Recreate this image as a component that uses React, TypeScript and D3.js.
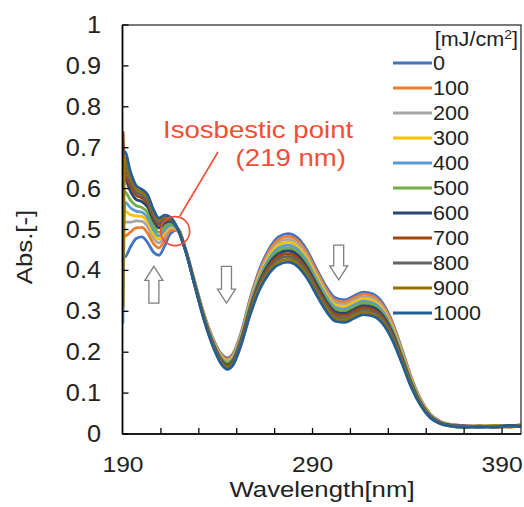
import React from "react";
import * as d3 from "d3";

const wavelengths = [
  190, 191, 194, 197, 200, 203, 206, 209, 212, 215, 219, 223, 228, 233, 238, 242,
  245, 248, 252, 257, 262, 267, 272, 277, 282, 287, 292, 297, 302, 307, 312, 317,
  322, 327, 332, 337, 342, 347, 352, 357, 362, 370, 378, 386, 394, 400,
];

const abs0 = [0.433, 0.433, 0.458, 0.478, 0.482, 0.468, 0.445, 0.437, 0.46, 0.49, 0.5, 0.452, 0.37, 0.29, 0.228, 0.195, 0.186, 0.196, 0.243, 0.33, 0.402, 0.452, 0.482, 0.49, 0.48, 0.45, 0.405, 0.362, 0.333, 0.328, 0.338, 0.347, 0.342, 0.32, 0.275, 0.21, 0.14, 0.085, 0.05, 0.032, 0.024, 0.02, 0.018, 0.019, 0.02, 0.022];
const abs100 = [0.484, 0.484, 0.494, 0.504, 0.505, 0.491, 0.466, 0.455, 0.475, 0.498, 0.5, 0.452, 0.369, 0.288, 0.226, 0.193, 0.183, 0.193, 0.24, 0.326, 0.397, 0.446, 0.475, 0.483, 0.473, 0.443, 0.399, 0.356, 0.327, 0.323, 0.333, 0.342, 0.337, 0.315, 0.271, 0.207, 0.138, 0.084, 0.049, 0.031, 0.024, 0.021, 0.017, 0.02, 0.018, 0.023];
const abs200 = [0.518, 0.518, 0.518, 0.521, 0.52, 0.507, 0.48, 0.467, 0.485, 0.503, 0.5, 0.451, 0.368, 0.287, 0.224, 0.19, 0.18, 0.19, 0.237, 0.322, 0.392, 0.44, 0.468, 0.476, 0.466, 0.436, 0.392, 0.35, 0.322, 0.317, 0.327, 0.336, 0.331, 0.31, 0.266, 0.203, 0.135, 0.082, 0.048, 0.031, 0.023, 0.019, 0.02, 0.017, 0.021, 0.02];
const abs300 = [0.544, 0.544, 0.536, 0.533, 0.532, 0.518, 0.49, 0.476, 0.492, 0.507, 0.5, 0.451, 0.367, 0.286, 0.222, 0.188, 0.178, 0.188, 0.234, 0.318, 0.387, 0.434, 0.462, 0.469, 0.459, 0.43, 0.386, 0.344, 0.316, 0.312, 0.322, 0.331, 0.326, 0.305, 0.262, 0.2, 0.133, 0.081, 0.047, 0.03, 0.023, 0.018, 0.019, 0.021, 0.017, 0.02];
const abs400 = [0.27, 0.567, 0.553, 0.545, 0.542, 0.529, 0.5, 0.484, 0.499, 0.511, 0.5, 0.45, 0.366, 0.284, 0.22, 0.185, 0.175, 0.185, 0.231, 0.314, 0.382, 0.428, 0.455, 0.462, 0.452, 0.423, 0.379, 0.338, 0.31, 0.306, 0.316, 0.325, 0.32, 0.3, 0.257, 0.196, 0.13, 0.079, 0.046, 0.03, 0.022, 0.02, 0.016, 0.019, 0.02, 0.018];
const abs500 = [0.592, 0.592, 0.571, 0.558, 0.554, 0.541, 0.51, 0.493, 0.507, 0.515, 0.5, 0.45, 0.365, 0.283, 0.218, 0.183, 0.172, 0.182, 0.228, 0.31, 0.377, 0.422, 0.448, 0.455, 0.445, 0.416, 0.373, 0.332, 0.305, 0.301, 0.311, 0.32, 0.315, 0.295, 0.253, 0.193, 0.128, 0.078, 0.045, 0.029, 0.022, 0.017, 0.018, 0.02, 0.019, 0.021];
const abs600 = [0.623, 0.623, 0.593, 0.573, 0.568, 0.555, 0.523, 0.504, 0.516, 0.52, 0.5, 0.45, 0.364, 0.281, 0.216, 0.18, 0.169, 0.179, 0.225, 0.306, 0.372, 0.416, 0.441, 0.448, 0.438, 0.409, 0.367, 0.326, 0.299, 0.295, 0.305, 0.314, 0.31, 0.29, 0.249, 0.189, 0.125, 0.076, 0.044, 0.028, 0.022, 0.019, 0.017, 0.018, 0.021, 0.019];
const abs700 = [0.74, 0.644, 0.607, 0.584, 0.577, 0.564, 0.531, 0.512, 0.522, 0.523, 0.5, 0.449, 0.363, 0.28, 0.214, 0.178, 0.166, 0.176, 0.222, 0.302, 0.367, 0.41, 0.434, 0.441, 0.431, 0.402, 0.36, 0.32, 0.293, 0.29, 0.3, 0.309, 0.304, 0.285, 0.244, 0.186, 0.123, 0.075, 0.043, 0.028, 0.021, 0.018, 0.02, 0.016, 0.019, 0.02];
const abs800 = [0.659, 0.659, 0.618, 0.592, 0.584, 0.571, 0.537, 0.517, 0.526, 0.525, 0.5, 0.449, 0.362, 0.278, 0.212, 0.175, 0.164, 0.174, 0.219, 0.298, 0.362, 0.404, 0.428, 0.434, 0.424, 0.396, 0.354, 0.314, 0.287, 0.284, 0.294, 0.303, 0.299, 0.28, 0.24, 0.182, 0.12, 0.073, 0.042, 0.027, 0.021, 0.02, 0.018, 0.019, 0.017, 0.021];
const abs900 = [0.31, 0.675, 0.629, 0.599, 0.591, 0.578, 0.544, 0.523, 0.531, 0.528, 0.5, 0.448, 0.361, 0.277, 0.21, 0.173, 0.161, 0.171, 0.216, 0.294, 0.357, 0.398, 0.421, 0.427, 0.417, 0.389, 0.347, 0.308, 0.282, 0.279, 0.289, 0.298, 0.293, 0.275, 0.235, 0.179, 0.118, 0.072, 0.041, 0.027, 0.02, 0.017, 0.019, 0.02, 0.018, 0.019];
const abs1000 = [0.69, 0.69, 0.64, 0.607, 0.598, 0.585, 0.55, 0.528, 0.535, 0.53, 0.5, 0.448, 0.36, 0.275, 0.208, 0.17, 0.158, 0.168, 0.213, 0.29, 0.352, 0.392, 0.414, 0.42, 0.41, 0.382, 0.341, 0.302, 0.276, 0.273, 0.283, 0.292, 0.288, 0.27, 0.231, 0.175, 0.115, 0.07, 0.04, 0.026, 0.02, 0.016, 0.018, 0.017, 0.02, 0.018];

const doses = ["0", "100", "200", "300", "400", "500", "600", "700", "800", "900", "1000"];
const seriesValues = [abs0, abs100, abs200, abs300, abs400, abs500, abs600, abs700, abs800, abs900, abs1000];
const colors = ["#4472C4", "#ED7D31", "#A5A5A5", "#FFC000", "#5B9BD5", "#70AD47", "#264478", "#9E480E", "#636363", "#997300", "#255E91"];

const yTicks = [0, 0.1, 0.2, 0.3, 0.4, 0.5, 0.6, 0.7, 0.8, 0.9, 1];
const xMinorTicks = [210, 230, 250, 270, 290, 310, 330, 350, 370, 390];
const xLabels = [190, 290, 390];

// arrows: [wavelength, top, bottom, direction]
const arrows: [number, number, number, string][] = [
  [206.3, 0.41, 0.32, "up"],
  [244.6, 0.41, 0.32, "down"],
  [303.8, 0.462, 0.377, "down"],
];

const W = 524;
const H = 507;
const font = "'Liberation Sans', Arial, sans-serif";
const red = "#F04E37";
const ink = "#222";

// text stretched sideways a little, the source figure's font is wider than Arial
function T({ x, y, sx = 1.1, size, anchor = "start", fill = ink, rotate = 0, children }: any) {
  return (
    <text
      transform={`translate(${x},${y}) rotate(${rotate}) scale(${sx},1)`}
      textAnchor={anchor}
      fontSize={size}
      fill={fill}
    >
      {children}
    </text>
  );
}

function Arrow({ cx, y0, y1, dir }: { cx: number; y0: number; y1: number; dir: string }) {
  const hw = 9, sw = 5, hh = 14;
  let pts;
  if (dir === "up") {
    pts = [[cx, y0], [cx + hw, y0 + hh], [cx + sw, y0 + hh], [cx + sw, y1], [cx - sw, y1], [cx - sw, y0 + hh], [cx - hw, y0 + hh]];
  } else {
    pts = [[cx, y1], [cx + hw, y1 - hh], [cx + sw, y1 - hh], [cx + sw, y0], [cx - sw, y0], [cx - sw, y1 - hh], [cx - hw, y1 - hh]];
  }
  return <polygon points={pts.map((p) => p.join(",")).join(" ")} fill="#fff" stroke="#7f7f7f" strokeWidth={1.3} />;
}

export default function App() {
  const x = d3.scaleLinear().domain([190, 400]).range([123, 521]);
  const y = d3.scaleLinear().domain([0, 1]).range([434, 25]);

  const line = d3
    .line<number>()
    .x((_, i) => x(wavelengths[i]))
    .y((d) => y(d))
    .curve(d3.curveMonotoneX);

  const legendY = d3.scaleLinear().domain([0, 10]).range([63, 313]);

  return (
    <svg width={W} height={H} style={{ position: "absolute", left: 0, top: 0, background: "#fff" }} fontFamily={font}>
      <defs>
        <clipPath id="plot">
          <rect x={123} y={25} width={398} height={409} />
        </clipPath>
      </defs>

      <g clipPath="url(#plot)">
        {seriesValues.map((vals, i) => (
          <path key={i} d={line(vals) || ""} fill="none" stroke={colors[i]} strokeWidth={2.8} strokeLinejoin="round" />
        ))}
      </g>

      {/* frame */}
      <rect x={122.5} y={25} width={398.5} height={409} fill="none" stroke="#333" strokeWidth={1.3} />
      <line x1={122.5} x2={122.5} y1={25} y2={434} stroke="#000" strokeWidth={1.6} />
      <line x1={122.5} x2={521} y1={434} y2={434} stroke="#000" strokeWidth={1.6} />

      {yTicks.map((t) => (
        <g key={t}>
          <line x1={122.5} x2={128.5} y1={y(t)} y2={y(t)} stroke="#000" strokeWidth={1.3} />
          <T x={101} y={y(t) + 8} size={23} anchor="end" sx={1.1}>
            {t === 0 || t === 1 ? String(t) : t.toFixed(1)}
          </T>
        </g>
      ))}
      {xMinorTicks.map((t) => (
        <line key={t} x1={x(t)} x2={x(t)} y1={434} y2={428} stroke="#000" strokeWidth={1.3} />
      ))}
      {xLabels.map((t) => (
        <T key={t} x={x(t)} y={472} size={22} anchor="middle" sx={1.12}>
          {t}
        </T>
      ))}

      <T x={322} y={497} size={23} anchor="middle" sx={1.12}>
        Wavelength[nm]
      </T>
      <T x={32} y={247} size={23} anchor="middle" rotate={-90} sx={1.12}>
        Abs.[-]
      </T>

      {/* legend */}
      <T x={518} y={46} size={20} anchor="end" sx={1.08}>
        [mJ/cm<tspan dy={-7} fontSize={13}>2</tspan>
        <tspan dy={7}>]</tspan>
      </T>
      {doses.map((d, i) => (
        <g key={d}>
          <line x1={393} x2={432} y1={legendY(i)} y2={legendY(i)} stroke={colors[i]} strokeWidth={2.8} />
          <T x={433} y={legendY(i) + 7} size={20} sx={1.08}>
            {d}
          </T>
        </g>
      ))}

      {/* annotation */}
      <T x={163} y={138} size={23} fill={red} sx={1.2}>
        Isosbestic point
      </T>
      <T x={346} y={166} size={23} anchor="end" fill={red} sx={1.2}>
        (219 nm)
      </T>
      <line x1={218} y1={152} x2={x(220)} y2={y(0.533)} stroke={red} strokeWidth={1.6} />
      <circle cx={x(217.5)} cy={y(0.496)} r={14.5} fill="none" stroke={red} strokeWidth={1.6} />

      {arrows.map(([wl, top, bot, dir], i) => (
        <Arrow key={i} cx={x(wl)} y0={y(top)} y1={y(bot)} dir={dir} />
      ))}
    </svg>
  );
}
